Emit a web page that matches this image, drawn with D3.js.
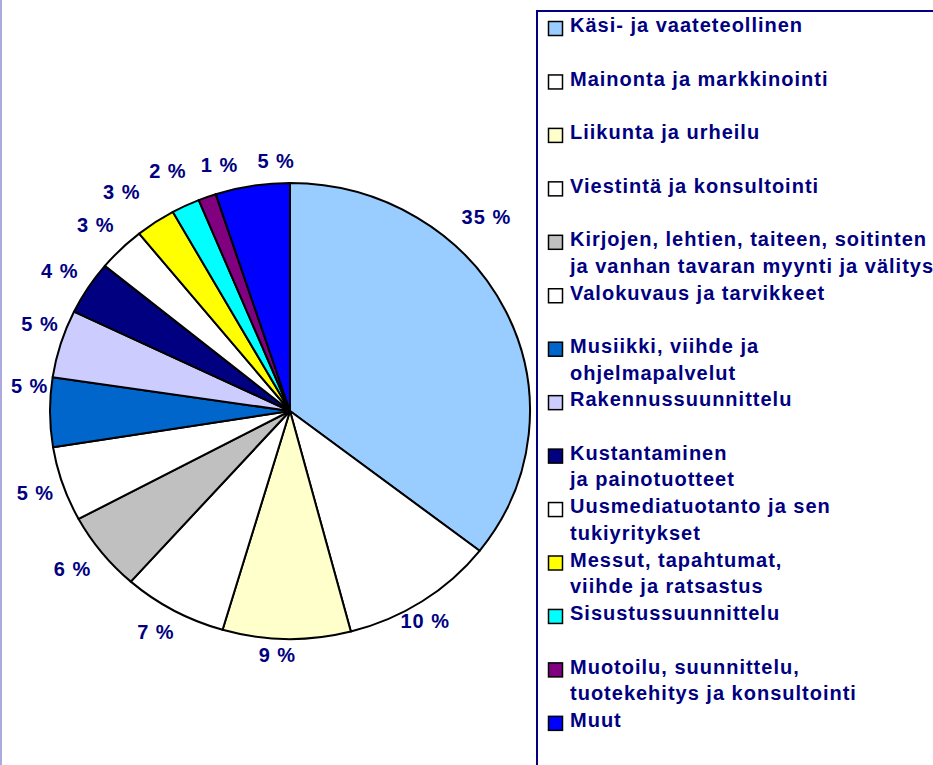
<!DOCTYPE html>
<html lang="fi">
<head>
<meta charset="utf-8">
<title>Toimialat</title>
<script src="https://d3js.org/d3.v7.min.js"></script>
<style>
  body { margin: 0; background: #fff; }
  text { font-family: "Liberation Sans", Arial, sans-serif; font-weight: bold; }
</style>
</head>
<body>
<script type="text/javascript">

// categories (legend order = slice order, clockwise from 12 o'clock)
var categories = [
  "Käsi- ja vaateteollinen",
  "Mainonta ja markkinointi",
  "Liikunta ja urheilu",
  "Viestintä ja konsultointi",
  "Kirjojen, lehtien, taiteen, soitinten\nja vanhan tavaran myynti ja välitys",
  "Valokuvaus ja tarvikkeet",
  "Musiikki, viihde ja\nohjelmapalvelut",
  "Rakennussuunnittelu",
  "Kustantaminen\nja painotuotteet",
  "Uusmediatuotanto ja sen\ntukiyritykset",
  "Messut, tapahtumat,\nviihde ja ratsastus",
  "Sisustussuunnittelu",
  "Muotoilu, suunnittelu,\ntuotekehitys ja konsultointi",
  "Muut"
];

// shares in percent
var shares = [35.45, 10.4, 8.6, 7.0, 5.6, 5.3, 4.9, 4.8, 3.8, 3.2, 2.7, 1.9, 1.2, 5.0];

var colors = ["#99ccff", "#ffffff", "#ffffcc", "#ffffff", "#c0c0c0", "#ffffff", "#0066cc",
              "#ccccff", "#000080", "#ffffff", "#ffff00", "#00ffff", "#800080", "#0000ff"];

// label placement: angle tweak (degrees) and distance (x pie radius),
// the labels were dragged about a bit in the original
var labelNudge  = [-20, 2, 2, 1, 1, 0, 6, 3, 0, 0, -2, 0, 5, 6];
var labelRadius = [1.18, 1.08, 1.07, 1.12, 1.14, 1.12, 1.09, 1.11, 1.14, 1.15, 1.19, 1.17, 1.12, 1.10];

var w = 933, h = 765;
var cx = 290, cy = 411;
var rx = 240, ry = 228;
var navy = "#000080";

var svg = d3.select("body").append("svg")
  .attr("width", w)
  .attr("height", h);

// thin frame on the left edge
svg.append("rect")
  .attr("x", 0).attr("y", 0)
  .attr("width", 2).attr("height", h)
  .attr("fill", "#aaaadd");

var pie = d3.pie().sort(null).value(function(d) { return d; });
var arcs = pie(shares);
var arc = d3.arc().innerRadius(0).outerRadius(rx);

// pie is slightly squashed vertically
var g = svg.append("g")
  .attr("transform", "translate(" + cx + "," + cy + ") scale(1," + (ry / rx) + ")");

g.selectAll("path")
  .data(arcs)
  .enter()
  .append("path")
  .attr("d", arc)
  .attr("fill", function(d, i) { return colors[i]; })
  .attr("stroke", "#000")
  .attr("stroke-width", 2)
  .attr("stroke-linejoin", "round")
  .attr("vector-effect", "non-scaling-stroke");

// percentage labels outside the pie
function labelAngle(d, i) {
  return (d.startAngle + d.endAngle) / 2 + labelNudge[i] * Math.PI / 180;
}

svg.selectAll("text.pct")
  .data(arcs)
  .enter()
  .append("text")
  .attr("class", "pct")
  .text(function(d) { return Math.round(d.data) + " %"; })
  .attr("x", function(d, i) { return cx + rx * labelRadius[i] * Math.sin(labelAngle(d, i)); })
  .attr("y", function(d, i) { return cy - ry * labelRadius[i] * Math.cos(labelAngle(d, i)) + 7; })
  .attr("text-anchor", "middle")
  .attr("font-size", "20px")
  .attr("letter-spacing", "1px")
  .attr("fill", navy);

// legend
svg.append("rect")
  .attr("x", 537).attr("y", 11)
  .attr("width", 420).attr("height", 800)
  .attr("fill", "none")
  .attr("stroke", navy)
  .attr("stroke-width", 2);

var rowStep = 53.45, lineStep = 26.6;

var items = svg.selectAll("g.item")
  .data(categories)
  .enter()
  .append("g")
  .attr("class", "item")
  .attr("transform", function(d, i) { return "translate(0," + (32.3 + i * rowStep) + ")"; });

items.append("rect")
  .attr("x", 548.5).attr("y", -10.8)
  .attr("width", 14).attr("height", 14)
  .attr("fill", function(d, i) { return colors[i]; })
  .attr("stroke", "#000")
  .attr("stroke-width", 1.5);

items.append("text")
  .attr("x", 570)
  .attr("font-size", "20px")
  .attr("letter-spacing", "1px")
  .attr("fill", navy)
  .selectAll("tspan")
  .data(function(d) { return d.split("\n"); })
  .enter()
  .append("tspan")
  .attr("x", 570)
  .attr("dy", function(d, j) { return j === 0 ? 0 : lineStep; })
  .text(function(d) { return d; });

</script>
</body>
</html>
